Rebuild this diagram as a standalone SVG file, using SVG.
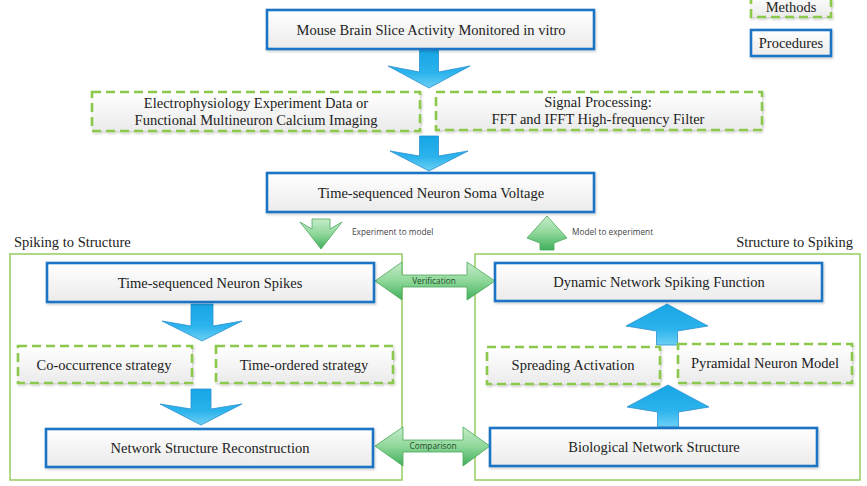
<svg xmlns="http://www.w3.org/2000/svg" width="867" height="486" viewBox="0 0 867 486">
<style>
.proc{fill:url(#boxg);stroke:#1b75c4;stroke-width:2.6;filter:url(#sh)}
.meth{fill:url(#boxg);stroke:#8cc84b;stroke-width:2.6;stroke-dasharray:9 5;filter:url(#sh)}
.cont{fill:none;stroke:#9ccf6a;stroke-width:1.6}
.t{font-family:"Liberation Serif","Times New Roman",serif;font-size:14.5px;fill:#222;text-anchor:middle}
.tl{font-family:"Liberation Serif","Times New Roman",serif;font-size:14.5px;fill:#222}
.s{font-family:"Open Sans","Liberation Sans",sans-serif;font-size:8.3px;fill:#444}
.sv{font-family:"Open Sans","Liberation Sans",sans-serif;font-size:8.3px;fill:#1f4f28;text-anchor:middle}
.ba{fill:url(#blueg);stroke:#2a8fcf;stroke-width:0.8}
.ga{fill:url(#greeng);stroke:#4aa85a;stroke-width:0.8}
</style>
<defs>
<linearGradient id="boxg" x1="0" y1="0" x2="0" y2="1">
<stop offset="0" stop-color="#ffffff"/>
<stop offset="1" stop-color="#ebebeb"/>
</linearGradient>
<linearGradient id="blueg" x1="0" y1="0" x2="0" y2="1">
<stop offset="0" stop-color="#17a6e6"/>
<stop offset="0.6" stop-color="#2bb3ec"/>
<stop offset="1" stop-color="#6cd0f5"/>
</linearGradient>
<linearGradient id="greeng" x1="0" y1="0" x2="0" y2="1">
<stop offset="0" stop-color="#c6ecc9"/>
<stop offset="0.5" stop-color="#8fd79a"/>
<stop offset="1" stop-color="#3fb05a"/>
</linearGradient>
<filter id="sh" x="-5%" y="-20%" width="110%" height="150%">
<feDropShadow dx="1" dy="1.5" stdDeviation="1" flood-color="#000" flood-opacity="0.2"/>
</filter>
</defs>

<rect width="867" height="486" fill="#ffffff"/>

<g id="containers">
<rect class="cont" x="10" y="254" width="392" height="226"/>
<rect class="cont" x="475" y="254" width="385" height="226"/>
<text class="tl" x="14" y="247">Spiking to Structure</text>
<text class="tl" x="853" y="247" text-anchor="end">Structure to Spiking</text>
</g>

<g id="legend">
<rect class="meth" x="751" y="-6" width="80" height="23"/>
<text class="t" x="791" y="11.5">Methods</text>
<rect class="proc" x="751" y="30" width="80" height="26"/>
<text class="t" x="791" y="48">Procedures</text>
</g>

<g id="connectors">
<polygon class="ba" points="419.5,50 419.5,72 388,66 429,88 470,66 438.5,72 438.5,50"/>
<polygon class="ba" points="419.5,136 419.5,156 390,151 429,171 468,151 438.5,156 438.5,136"/>
<polygon class="ba" points="191,304 191,326 162,321 202,341 242,321 213,326 213,304"/>
<polygon class="ba" points="191,389 191,409 160,404 201,425 242,404 211,409 211,389"/>
<polygon class="ba" points="657.5,427 657.5,412 627,407 668,385 709,407 678.5,412 678.5,427"/>
<polygon class="ba" points="656.5,345 656.5,331 626,326 667,304 708,326 677.5,331 677.5,345"/>
<polygon class="ga" points="312,219 312,229 300,222 321,249 342,222 330,229 330,219"/>
<text class="s" x="352" y="235">Experiment to model</text>
<polygon class="ga" points="540,250 540,243 527,238 547,216 567,238 554,243 554,250"/>
<text class="s" x="572" y="235">Model to experiment</text>
<polygon class="ga" points="375,281 402,262 402,275 467,275 467,262 495,281 467,300 467,287 402,287 402,300"/>
<text class="sv" x="434" y="284">Verification</text>
<polygon class="ga" points="375,446 403,427 403,440 463,440 463,427 490,446 463,466 463,452 403,452 403,466"/>
<text class="sv" x="433" y="449">Comparison</text>
</g>

<g id="n-mouse">
<rect class="proc" x="267" y="10" width="327" height="39"/>
<text class="t" x="431" y="34.5">Mouse Brain Slice Activity Monitored in vitro</text>
</g>
<g id="n-ephys">
<rect class="meth" x="92" y="92" width="328" height="39"/>
<text class="t" x="256" y="108">Electrophysiology Experiment Data or</text>
<text class="t" x="256" y="125">Functional Multineuron Calcium Imaging</text>
</g>
<g id="n-signal">
<rect class="meth" x="436" y="92" width="326" height="38"/>
<text class="t" x="598" y="107">Signal Processing:</text>
<text class="t" x="598" y="124">FFT and IFFT High-frequency Filter</text>
</g>
<g id="n-soma">
<rect class="proc" x="267" y="173" width="327" height="39"/>
<text class="t" x="431" y="197.5">Time-sequenced Neuron Soma Voltage</text>
</g>
<g id="n-spikes">
<rect class="proc" x="47" y="263" width="327" height="39"/>
<text class="t" x="210" y="287.5">Time-sequenced Neuron Spikes</text>
</g>
<g id="n-cooc">
<rect class="meth" x="18" y="346" width="174" height="37"/>
<text class="t" x="104" y="369.5">Co-occurrence strategy</text>
</g>
<g id="n-timeord">
<rect class="meth" x="216" y="346" width="177" height="37"/>
<text class="t" x="304" y="369.5">Time-ordered strategy</text>
</g>
<g id="n-recon">
<rect class="proc" x="46" y="429" width="327" height="38"/>
<text class="t" x="210" y="452.5">Network Structure Reconstruction</text>
</g>
<g id="n-dynamic">
<rect class="proc" x="495" y="263" width="327" height="38"/>
<text class="t" x="659" y="286.5">Dynamic Network Spiking Function</text>
</g>
<g id="n-spreading">
<rect class="meth" x="487" y="347" width="173" height="37"/>
<text class="t" x="573" y="369.5">Spreading Activation</text>
</g>
<g id="n-pyramidal">
<rect class="meth" x="678" y="344" width="174" height="39"/>
<text class="t" x="765" y="367.5">Pyramidal Neuron Model</text>
</g>
<g id="n-bio">
<rect class="proc" x="490" y="428" width="327" height="38"/>
<text class="t" x="654" y="451.5">Biological Network Structure</text>
</g>
</svg>
